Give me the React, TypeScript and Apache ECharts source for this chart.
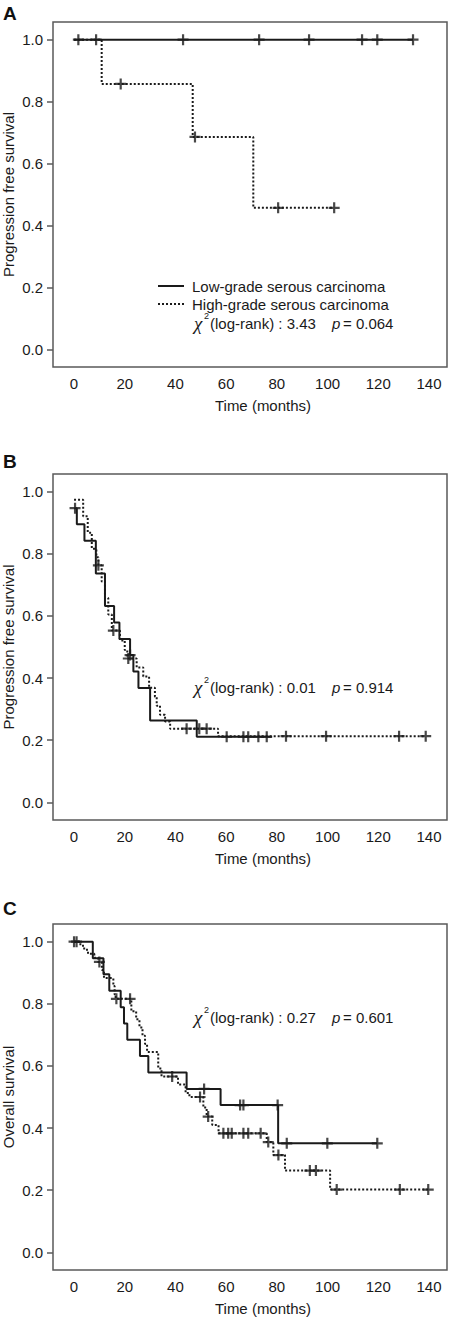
import React, { useEffect, useRef } from "react";
import * as echarts from "echarts";

// ---------- labels ----------
const xTicks = [0, 20, 40, 60, 80, 100, 120, 140];
const yTicks = [0, 0.2, 0.4, 0.6, 0.8, 1.0];
const groupNames = ["Low-grade serous carcinoma", "High-grade serous carcinoma"];
const yTitles = ["Progression free survival", "Progression free survival", "Overall survival"];
const xTitle = "Time (months)";
const panelLetters = ["A", "B", "C"];
const chiValues = ["3.43", "0.01", "0.27"];
const pValues = ["0.064", "0.914", "0.601"];

// ---------- Panel A ----------
const aLowT = [0, 133.7];
const aLowS = [1.0, 1.0];
const aLowCens = [1.7, 8.7, 43.0, 73.0, 92.7, 113.6, 119.6, 133.7];
const aHighT = [0, 10.9, 46.8, 70.7, 102.6];
const aHighS = [1.0, 0.857, 0.686, 0.457, 0.457];
const aHighCens = [18.4, 47.7, 80.5, 102.6];

// ---------- Panel B ----------
const bLowT = [0, 1.1, 4.1, 8.6, 12.2, 15.8, 17.9, 22.1, 23.4, 25.4, 30.0, 48.4, 78.0];
const bLowS = [0.947, 0.895, 0.842, 0.737, 0.632, 0.579, 0.526, 0.474, 0.421, 0.368, 0.263, 0.211, 0.211];
const bLowCens = [0.4, 22.1, 60.2, 66.8, 68.7, 72.7, 76.0];
const bHighT = [0, 3.6, 5.4, 7.0, 8.8, 9.6, 10.9, 12.2, 13.5, 14.9, 18.1, 20.0, 21.0, 24.7, 27.3, 29.6, 31.9, 32.6, 33.9, 35.9, 37.9, 56.8, 138.7];
const bHighS = [0.974, 0.921, 0.868, 0.816, 0.789, 0.763, 0.711, 0.658, 0.605, 0.553, 0.521, 0.49, 0.463, 0.434, 0.405, 0.369, 0.34, 0.311, 0.282, 0.26, 0.237, 0.213, 0.213];
const bHighCens = [9.6, 15.5, 21.4, 44.4, 49.4, 52.3, 83.6, 99.4, 128.2, 138.7];

// ---------- Panel C ----------
const cLowT = [0, 7.4, 11.6, 13.9, 18.4, 19.7, 21.0, 26.0, 29.3, 44.4, 57.8, 80.5, 119.6];
const cLowS = [1.0, 0.947, 0.895, 0.842, 0.789, 0.737, 0.684, 0.632, 0.579, 0.526, 0.474, 0.351, 0.351];
const cLowCens = [0, 1.0, 51.3, 65.5, 66.8, 80.3, 83.9, 99.9, 119.6];
const cHighT = [0, 2.5, 4.0, 5.5, 8.0, 9.5, 11.0, 11.8, 15.5, 16.0, 16.4, 22.6, 24.5, 25.8, 27.0, 28.0, 28.8, 33.2, 34.5, 41.0, 44.0, 45.5, 51.0, 52.3, 54.5, 57.0, 76.0, 78.6, 83.2, 101.0, 139.7];
const cHighS = [1.0, 0.987, 0.974, 0.961, 0.948, 0.935, 0.909, 0.883, 0.857, 0.83, 0.816, 0.776, 0.75, 0.724, 0.697, 0.671, 0.645, 0.592, 0.566, 0.54, 0.513, 0.5, 0.466, 0.437, 0.41, 0.383, 0.355, 0.313, 0.263, 0.202, 0.202];
const cHighCens = [10.0, 16.7, 22.1, 38.7, 49.7, 52.9, 58.9, 60.8, 62.2, 66.8, 68.7, 73.6, 76.6, 80.6, 93.0, 95.4, 103.6, 128.5, 139.7];

const panels = [
  { low: [aLowT, aLowS, aLowCens], high: [aHighT, aHighS, aHighCens] },
  { low: [bLowT, bLowS, bLowCens], high: [bHighT, bHighS, bHighCens] },
  { low: [cLowT, cLowS, cLowCens], high: [cHighT, cHighS, cHighCens] },
];

const INK = "#1a1a1a";
const FRAME = "#5a5a5a";
const SANS = "'Liberation Sans', Arial, sans-serif";
const PLUS = "path://M4,0 H6 V4 H10 V6 H6 V10 H4 V6 H0 V4 H4 Z";

function survAt(T: number[], S: number[], t: number) {
  let v = S[0];
  for (let i = 0; i < T.length; i++) if (T[i] <= t) v = S[i];
  return v;
}

const gridTops = [22, 474, 924];
const gridHeights = [345, 346, 346];
const statY = [323, 687, 1017];
const letterY = [13.5, 461.5, 908.5];

export default function App() {
  const ref = useRef<HTMLDivElement>(null);
  useEffect(() => {
    document.body.style.margin = "0";
    const chart = echarts.init(ref.current!, null, { renderer: "svg" });

    const grid = gridTops.map((top, i) => ({
      left: 53,
      top,
      width: 394,
      height: gridHeights[i],
      containLabel: false,
      outerBoundsMode: "none",
      show: true,
      borderColor: FRAME,
      borderWidth: 1.5,
      backgroundColor: "transparent",
    }));

    const xAxis = gridTops.map((_, i) => ({
      type: "value",
      gridIndex: i,
      position: "bottom",
      min: -8.3,
      max: 147.1,
      axisLine: { show: false, onZero: false },
      axisTick: { show: false },
      splitLine: { show: false },
      axisLabel: {
        customValues: xTicks,
        margin: 9,
        fontSize: 15,
        color: INK,
        fontFamily: SANS,
      },
      name: xTitle,
      nameLocation: "middle",
      nameGap: 31,
      nameMoveOverlap: false,
      nameTextStyle: { fontSize: 15, color: INK, fontFamily: SANS, padding: [0, 0, 0, 26] },
    }));

    const yAxis = gridTops.map((_, i) => ({
      type: "value",
      gridIndex: i,
      position: "left",
      min: -0.057,
      max: 1.057,
      axisLine: { show: false, onZero: false },
      splitLine: { show: false },
      axisTick: {
        show: true,
        customValues: yTicks,
        length: 6,
        lineStyle: { color: FRAME, width: 1.5 },
      },
      axisLabel: {
        customValues: yTicks,
        formatter: (v: number) => v.toFixed(1),
        margin: 10,
        fontSize: 15,
        color: INK,
        fontFamily: SANS,
      },
      name: yTitles[i],
      nameLocation: "middle",
      nameGap: 37,
      nameMoveOverlap: false,
      nameTextStyle: { fontSize: 15, color: INK, fontFamily: SANS },
    }));

    const series: any[] = [];
    panels.forEach((p, i) => {
      const groups = [p.low, p.high];
      groups.forEach((g, gi) => {
        const [T, S, C] = g as number[][];
        const name = `${panelLetters[i]} ${groupNames[gi]}`;
        series.push({
          type: "line",
          name,
          xAxisIndex: i,
          yAxisIndex: i,
          step: "end",
          symbol: "none",
          data: T.map((t, k) => [t, S[k]]),
          lineStyle: { color: INK, width: 2, type: gi === 0 ? "solid" : [2, 2] },
          itemStyle: { color: INK },
          z: 2,
        });
        series.push({
          type: "scatter",
          name: name + " censored",
          xAxisIndex: i,
          yAxisIndex: i,
          symbol: PLUS,
          symbolSize: [11, 11],
          itemStyle: { color: INK },
          data: C.map((t) => [t, survAt(T, S, t)]),
          z: 3,
        });
      });
    });

    const graphic: any[] = [];
    // legend of panel A
    const legendRows = [286, 304];
    legendRows.forEach((ly, gi) => {
      graphic.push({
        type: "line",
        shape: { x1: 158, y1: ly, x2: 184, y2: ly },
        style: { stroke: INK, lineWidth: 2, lineDash: gi === 0 ? null : [2, 2] },
      });
      graphic.push({
        type: "text",
        x: 192,
        y: ly,
        style: { text: groupNames[gi], font: `15px ${SANS}`, fill: INK, verticalAlign: "middle", align: "left" },
      });
    });
    panelLetters.forEach((L, i) => {
      graphic.push({
        type: "text",
        x: 3,
        y: letterY[i],
        style: { text: L, font: `bold 19px ${SANS}`, fill: "#111", verticalAlign: "middle", align: "left" },
      });
      const yc = statY[i];
      graphic.push({
        type: "text",
        x: 194,
        y: yc,
        style: { text: "χ", font: `italic 19px 'Liberation Serif', serif`, fill: INK, verticalAlign: "middle", align: "left" },
      });
      graphic.push({
        type: "text",
        x: 204,
        y: yc - 7,
        style: { text: "2", font: `9px ${SANS}`, fill: INK, verticalAlign: "middle", align: "left" },
      });
      graphic.push({
        type: "text",
        x: 210,
        y: yc,
        style: { text: `(log-rank) : ${chiValues[i]}`, font: `15px ${SANS}`, fill: INK, verticalAlign: "middle", align: "left" },
      });
      graphic.push({
        type: "text",
        x: 332,
        y: yc,
        style: { text: "p", font: `italic 15px ${SANS}`, fill: INK, verticalAlign: "middle", align: "left" },
      });
      graphic.push({
        type: "text",
        x: 343,
        y: yc,
        style: { text: `= ${pValues[i]}`, font: `15px ${SANS}`, fill: INK, verticalAlign: "middle", align: "left" },
      });
    });

    chart.setOption({
      animation: false,
      backgroundColor: "#ffffff",
      grid,
      xAxis,
      yAxis,
      series,
      graphic,
    });
    return () => chart.dispose();
  }, []);
  return (
    <div
      ref={ref}
      style={{ position: "absolute", left: 0, top: 0, width: 450, height: 1319, background: "#fff" }}
    />
  );
}
